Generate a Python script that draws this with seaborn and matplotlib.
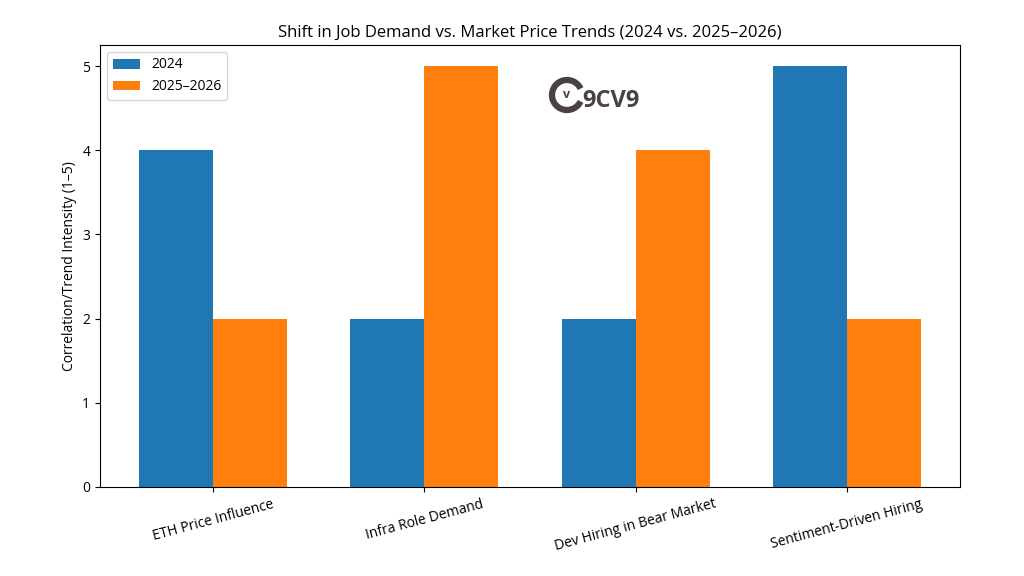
import matplotlib
matplotlib.use("Agg")
import matplotlib.pyplot as plt
import seaborn as sns
import pandas as pd
from matplotlib.patches import Arc

categories = ["ETH Price Influence", "Infra Role Demand", "Dev Hiring in Bear Market", "Sentiment-Driven Hiring"]
series_names = ["2024", "2025–2026"]
values_2024 = [4, 2, 2, 5]
values_2025_2026 = [2, 5, 4, 2]
colors = ["#1f77b4", "#ff7f0e"]

plt.rcParams["font.family"] = ["Open Sans", "DejaVu Sans"]

df = pd.DataFrame({
    "Category": categories * 2,
    "Period": [series_names[0]] * len(categories) + [series_names[1]] * len(categories),
    "Value": values_2024 + values_2025_2026,
})

fig = plt.figure(figsize=(10.24, 5.76), dpi=100)
ax = fig.add_axes([100 / 1024, 1 - 487 / 576, 860 / 1024, 442 / 576])

sns.barplot(data=df, x="Category", y="Value", hue="Period", hue_order=series_names,
            palette=colors, saturation=1, width=0.7, ax=ax, errorbar=None)

ax.set_xlim(-0.535, 3.535)
ax.set_ylim(0, 5.25)
ax.set_yticks([0, 1, 2, 3, 4, 5])
ax.set_xlabel("")
ax.set_ylabel("Correlation/Trend Intensity (1–5)", fontsize=10)
ax.set_title("Shift in Job Demand vs. Market Price Trends (2024 vs. 2025–2026)", fontsize=12, pad=6)
for lbl in ax.get_xticklabels():
    lbl.set_rotation(15)
ax.tick_params(axis="both", labelsize=10)
for s in ax.spines.values():
    s.set_visible(True)
    s.set_color("black")
    s.set_linewidth(0.8)
ax.legend(loc="upper left", fontsize=10)

# 9CV9 logo
fig.patches.append(Arc((567 / 1024, 1 - 95 / 576), 30 / 1024, 30 / 576, angle=0,
                       theta1=40, theta2=320, transform=fig.transFigure,
                       color="#4a4242", linewidth=4.5, figure=fig))
fig.text(567 / 1024, 1 - 95 / 576, "v", fontsize=9, fontweight="bold", color="#4a4242",
         ha="center", va="center")
fig.text(582 / 1024, 1 - 101 / 576, "9CV9", fontsize=17, fontweight="bold", color="#4a4242",
         ha="left", va="center")

fig.savefig("out.png", dpi=100)
